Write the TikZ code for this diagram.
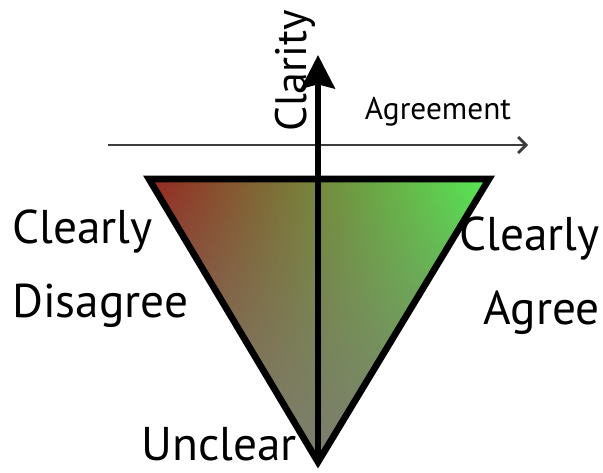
\documentclass[tikz,border=0pt]{standalone}
\usepackage{fontspec}
\setmainfont{PT Sans}
\usetikzlibrary{arrows.meta,fadings}
\definecolor{disRed}{RGB}{150,40,35}
\definecolor{agrGreen}{RGB}{85,235,85}
\definecolor{unclearGray}{RGB}{125,126,112}
\definecolor{axisGray}{RGB}{60,60,60}
\tikzset{
  bigtext/.style={inner sep=0pt, font=\fontsize{35.5}{55}\selectfont},
  axistext/.style={inner sep=0pt, font=\fontsize{23.5}{28}\selectfont}
}
\begin{document}
\begin{tikzpicture}[x=0.75pt,y=-0.75pt]
  \useasboundingbox (0,0) rectangle (603,472);
  % corners of the triangle
  \coordinate (tl) at (149,179);
  \coordinate (tr) at (489,179);
  \coordinate (bot) at (318,462);
  \shade[left color=disRed, right color=agrGreen] (tl) -- (tr) -- (bot) -- cycle;
  \fill[unclearGray, path fading=north] (tl) -- (tr) -- (bot) -- cycle;
  \draw[line width=5pt, line join=miter] (tl) -- (tr) -- (bot) -- cycle;
  % axes
  \coordinate (agrStart) at (108,145);
  \coordinate (agrEnd) at (528,145);
  \coordinate (clarEnd) at (318,55);
  \draw[-{Straight Barb[length=6pt,width=12pt]}, line width=2pt, axisGray] (agrStart) -- (agrEnd);
  \draw[-{Stealth[length=25pt,width=25pt,inset=3pt]}, line width=5pt] (bot) -- (clarEnd);
  % labels
  \node[axistext, font=\fontsize{33}{36}\selectfont, rotate=90, anchor=south] (clarity) at (316,71) {Clarity};
  \node[axistext, anchor=base] (agreement) at (438,119) {Agreement};
  \node[bigtext, anchor=north west, align=left] (disagree) at (12,210) {Clearly\\Disagree};
  \node[bigtext, anchor=north east, align=right] (agree) at (600,217) {Clearly\\Agree};
  \node[bigtext, anchor=base west] (unclear) at (141,460) {Unclear};
\end{tikzpicture}
\end{document}
